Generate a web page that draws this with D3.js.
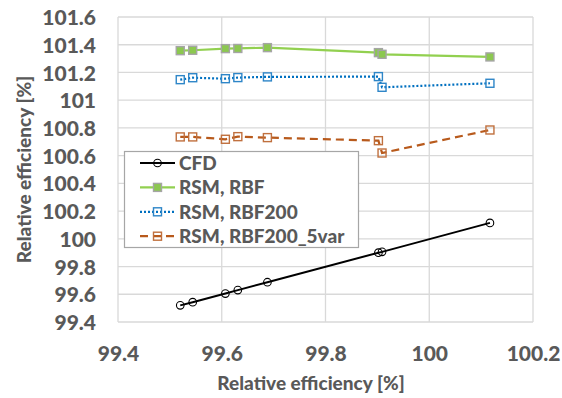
<!DOCTYPE html>
<html>
<head>
<meta charset="utf-8">
<script src="https://cdn.jsdelivr.net/npm/d3@7"></script>
<style>
  html, body { margin: 0; padding: 0; background: #fff; }
  svg { display: block; }
  text { font-family: Lato, "Open Sans", sans-serif; font-weight: 900; fill: #595959; }
</style>
</head>
<body>
<svg id="chart" width="562" height="398"></svg>
<script>
// ---- data ----
const xValues      = [99.520, 99.544, 99.607, 99.631, 99.688, 99.902, 99.909, 100.117];
const cfd          = [99.520, 99.543, 99.605, 99.630, 99.687, 99.900, 99.906, 100.115];
const rsmRbf       = [101.357, 101.360, 101.372, 101.373, 101.379, 101.343, 101.331, 101.312];
const rsmRbf200    = [101.148, 101.162, 101.155, 101.163, 101.168, 101.170, 101.093, 101.122];
const rsmRbf200_5v = [100.735, 100.735, 100.718, 100.737, 100.730, 100.708, 100.619, 100.785];
const seriesNames  = ["CFD", "RSM, RBF", "RSM, RBF200", "RSM, RBF200_5var"];
const xTickValues  = [99.4, 99.6, 99.8, 100, 100.2];
const xTickLabels  = ["99.4", "99.6", "99.8", "100", "100.2"];
const yTickValues  = [99.4, 99.6, 99.8, 100, 100.2, 100.4, 100.6, 100.8, 101, 101.2, 101.4, 101.6];
const yTickLabels  = ["99.4", "99.6", "99.8", "100", "100.2", "100.4", "100.6", "100.8", "101", "101.2", "101.4", "101.6"];
const xTitle = "Relative efficiency [%]";
const yTitle = "Relative efficiency [%]";

// ---- layout ----
const svg = d3.select("#chart");
const L = 118, R = 533, T = 17, B = 322;
const x = d3.scaleLinear().domain([99.4, 100.2]).range([L, R]);
const y = d3.scaleLinear().domain([99.4, 101.6]).range([B, T]);

// gridlines
const grid = svg.append("g");
grid.selectAll("line.v").data(xTickValues).join("line")
  .attr("x1", d => x(d)).attr("x2", d => x(d)).attr("y1", T).attr("y2", B)
  .attr("stroke", "#d9d9d9").attr("stroke-width", 1.3);
grid.selectAll("line.h").data(yTickValues).join("line")
  .attr("x1", L).attr("x2", R).attr("y1", d => y(d)).attr("y2", d => y(d))
  .attr("stroke", "#d9d9d9").attr("stroke-width", 1.3);

// axes (labels only)
const xAxis = d3.axisBottom(x).tickValues(xTickValues)
  .tickFormat((d, i) => xTickLabels[i]).tickSize(0).tickPadding(0);
const gx = svg.append("g").attr("transform", `translate(0,${B})`).call(xAxis);
gx.select(".domain").remove();
gx.selectAll("text").attr("dy", null).attr("y", 39)
  .style("font-size", "21px").style("font-family", "Lato, sans-serif").style("font-weight", "900").style("fill", "#595959");

const yAxis = d3.axisLeft(y).tickValues(yTickValues)
  .tickFormat((d, i) => yTickLabels[i]).tickSize(0).tickPadding(0);
const gy = svg.append("g").attr("transform", `translate(${L - 22},0)`).call(yAxis);
gy.select(".domain").remove();
gy.selectAll("text").attr("dy", "0.36em")
  .style("font-size", "21px").style("font-family", "Lato, sans-serif").style("font-weight", "900").style("fill", "#595959");

// axis titles
svg.append("text").attr("x", 311).attr("y", 390)
  .attr("text-anchor", "middle").style("font-size", "19px").text(xTitle);
svg.append("text").attr("transform", `translate(31,${(T + B) / 2}) rotate(-90)`)
  .attr("text-anchor", "middle").style("font-size", "19px").text(yTitle);

// series
const series = [
  { name: seriesNames[0], ys: cfd, color: "#000000", dash: null, width: 2, marker: "circle", mfill: "none", mstroke: "#000000" },
  { name: seriesNames[1], ys: rsmRbf, color: "#92d050", dash: null, width: 2.2, marker: "square", mfill: "#8cc850", mstroke: "#a5a5a5" },
  { name: seriesNames[2], ys: rsmRbf200, color: "#0070c0", dash: "2,2", width: 2.2, marker: "square", mfill: "none", mstroke: "#2e86c8" },
  { name: seriesNames[3], ys: rsmRbf200_5v, color: "#b85a1c", dash: "8,5", width: 2.2, marker: "square", mfill: "none", mstroke: "#c0703e" }
];

const line = d3.line().x(d => x(d[0])).y(d => y(d[1]));

function drawMarker(g, s, cx, cy) {
  if (s.marker === "circle") {
    g.append("circle").attr("cx", cx).attr("cy", cy).attr("r", 3.8)
      .attr("fill", s.mfill).attr("stroke", s.mstroke).attr("stroke-width", 1.1);
  } else {
    g.append("rect").attr("x", cx - 4).attr("y", cy - 4).attr("width", 8).attr("height", 8)
      .attr("fill", s.mfill).attr("stroke", s.mstroke).attr("stroke-width", 1.4);
  }
}

series.forEach(s => {
  const pts = xValues.map((xv, i) => [xv, s.ys[i]]);
  const g = svg.append("g");
  g.append("path").attr("d", line(pts)).attr("fill", "none")
    .attr("stroke", s.color).attr("stroke-width", s.width)
    .attr("stroke-dasharray", s.dash);
  pts.forEach(p => drawMarker(g, s, x(p[0]), y(p[1])));
});

// legend
const lg = svg.append("g");
lg.append("rect").attr("x", 124.5).attr("y", 151.5).attr("width", 234).attr("height", 96)
  .attr("fill", "#ffffff").attr("stroke", "#a6a6a6").attr("stroke-width", 1.2);
series.forEach((s, i) => {
  const cy = 163 + i * 24.4;
  lg.append("line").attr("x1", 140).attr("x2", 175).attr("y1", cy).attr("y2", cy)
    .attr("stroke", s.color).attr("stroke-width", s.width).attr("stroke-dasharray", s.dash);
  drawMarker(lg, s, 157.5, cy);
  lg.append("text").attr("x", 179).attr("y", cy).attr("dy", "0.36em")
    .style("font-size", "19px").text(s.name);
});
</script>
</body>
</html>
